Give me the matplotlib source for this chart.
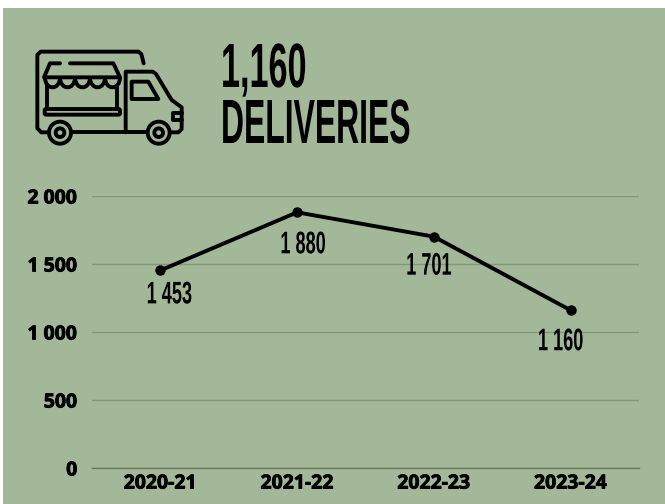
import matplotlib
matplotlib.use("Agg")
import matplotlib.pyplot as plt
from matplotlib.patches import Circle, PathPatch, Rectangle, FancyBboxPatch
from matplotlib.path import Path
from matplotlib.patheffects import AbstractPathEffect, withStroke
from matplotlib.transforms import Affine2D

seasons = ["2020-21", "2021-22", "2022-23", "2023-24"]
deliveries = [1453, 1880, 1701, 1160]
point_labels = ["1 453", "1 880", "1 701", "1 160"]
y_ticks = [0, 500, 1000, 1500, 2000]
y_tick_labels = ["0", "500", "1 000", "1 500", "2 000"]
label_offsets = [(9, -33), (6, -41), (-5, -38), (-10, -40)]

BG = "#a3b898"
GRID = "#7f9879"
BASE = "#67785f"
COND = ["Liberation Sans Narrow", "Liberation Sans", "DejaVu Sans"]
TICK = ["Open Sans", "DejaVu Sans"]


class Squeeze(AbstractPathEffect):
    # narrows the glyphs horizontally, the fonts here are not condensed enough
    def __init__(self, sx, cx):
        super().__init__()
        self.sx = sx
        self.cx = cx

    def draw_path(self, renderer, gc, tpath, affine, rgbFace=None):
        squeeze = Affine2D().translate(-self.cx, 0).scale(self.sx, 1).translate(self.cx, 0)
        renderer.draw_path(gc, tpath, affine + squeeze, rgbFace)


fig = plt.figure(figsize=(6.65, 5.04), dpi=100, facecolor="white")
W, H = 665, 504

# overlay in pixel coordinates for the panel and the truck icon
bg = fig.add_axes([0, 0, 1, 1])
bg.set_xlim(0, W)
bg.set_ylim(H, 0)
bg.axis("off")
bg.add_patch(Rectangle((3, 8), 662, 496, fc=BG, ec="none"))

ICON_LW = 2.8


def stroke(points, closed=False):
    verts = [(x / 3, y / 3) for x, y in points]
    codes = [Path.MOVETO] + [Path.LINETO] * (len(verts) - 1)
    if closed:
        verts.append(verts[0])
        codes.append(Path.CLOSEPOLY)
    bg.add_patch(PathPatch(Path(verts, codes), fc="none", ec="black", lw=ICON_LW,
                           capstyle="round", joinstyle="round"))


# truck body
stroke([(415, 155), (122, 155), (112, 165), (112, 385), (124, 397), (145, 397)])
stroke([(415, 155), (424, 162), (431, 190)])
stroke([(215, 397), (445, 397)])
stroke([(508, 397), (535, 397), (545, 387), (545, 322), (515, 300), (468, 222), (458, 215), (377, 215), (377, 397)])
stroke([(395, 245), (445, 245), (475, 297), (395, 297)], closed=True)
stroke([(545, 338), (520, 338), (520, 360), (545, 360)])

# awning
stroke([(180, 190), (150, 190), (132, 232), (360, 232), (340, 190), (210, 190)])
for i in range(5):
    x0 = 135 + i * 45
    x1 = x0 + 45
    verts = [(x0 / 3, 232 / 3), (x0 / 3, 272 / 3), (x1 / 3, 272 / 3), (x1 / 3, 232 / 3)]
    bg.add_patch(PathPatch(Path(verts, [Path.MOVETO, Path.CURVE4, Path.CURVE4, Path.CURVE4]),
                           fc="none", ec="black", lw=ICON_LW))
stroke([(140, 258), (140, 327)])
stroke([(352, 258), (352, 327)])
bg.add_patch(FancyBboxPatch((134 / 3, 327 / 3), 226 / 3, 17 / 3, boxstyle="round,pad=0,rounding_size=1.5",
                            fc="none", ec="black", lw=ICON_LW))

# wheels
for cx in (180, 476):
    for r in (33, 13):
        bg.add_patch(Circle((cx / 3, 398 / 3), r / 3, fc=BG if r == 33 else "none", ec="black", lw=ICON_LW, zorder=3))

# headline
fig.text(221 / W, 1 - 87 / H, "1,160", family=COND, weight="bold", fontsize=45, color="black",
         ha="left", va="baseline", path_effects=[Squeeze(0.547, 221)])
fig.text(221 / W, 1 - 143 / H, "DELIVERIES", family=COND, weight="bold", fontsize=45, color="black",
         ha="left", va="baseline", path_effects=[Squeeze(0.51, 221)])

# chart
ax = fig.add_axes([92 / W, 1 - 468 / H, (639 - 92) / W, (468 - 196) / H])
ax.patch.set_alpha(0)
x = list(range(len(seasons)))
ax.plot(x, deliveries, color="black", lw=2.8, marker="o", ms=6.5, solid_capstyle="round", zorder=3)
ax.set_xlim(-0.5, 3.5)
ax.set_ylim(0, 2000)
ax.set_xticks(x, seasons, family=TICK, weight="bold", fontsize=14)
ax.set_yticks(y_ticks, y_tick_labels, family=TICK, weight="bold", fontsize=14)
ax.tick_params(length=0)
ax.tick_params(axis="x", pad=4)
ax.tick_params(axis="y", pad=10.5)
for t in ax.get_xticklabels() + ax.get_yticklabels():
    t.set_path_effects([withStroke(linewidth=0.6, foreground="black")])
ax.grid(axis="y", color=GRID, lw=1)
ax.set_axisbelow(True)
for name, spine in ax.spines.items():
    spine.set_visible(name == "bottom")
ax.spines["bottom"].set_color(BASE)
ax.spines["bottom"].set_linewidth(1)
ax.spines["bottom"].set_zorder(2.5)

for xi, yi, text, (dx, dy) in zip(x, deliveries, point_labels, label_offsets):
    ax.annotate(text, (xi, yi), xytext=(dx, dy), textcoords="offset pixels", ha="center", va="baseline",
                family=COND, weight="bold", fontsize=22.5, color="black")

# squeeze the value labels around their own centres
fig.canvas.draw()
for t in ax.texts:
    bb = t.get_window_extent()
    t.set_path_effects([Squeeze(0.58, (bb.x0 + bb.x1) / 2)])

fig.savefig("out.png", dpi=100, facecolor="white")
